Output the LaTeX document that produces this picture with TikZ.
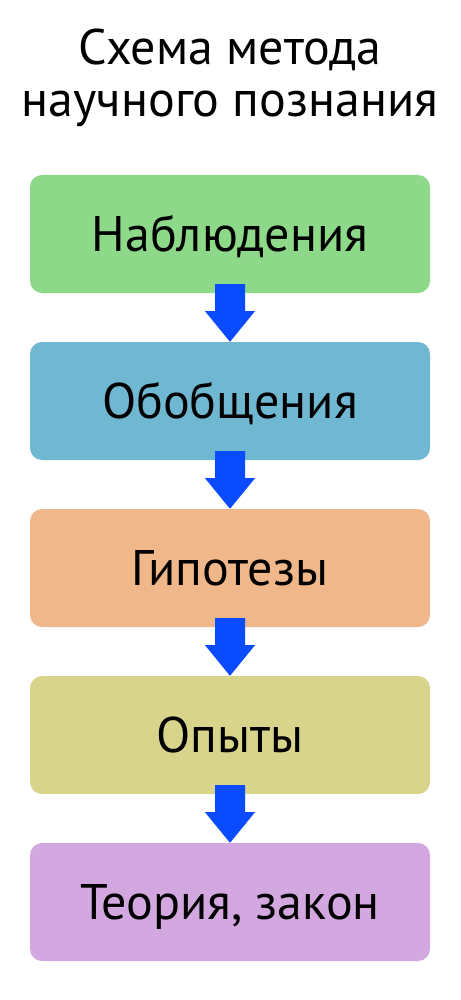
\documentclass[tikz,border=0pt]{standalone}
\usepackage{fontspec}
\setmainfont{PT Sans}
\begin{document}
\begin{tikzpicture}[x=1pt,y=-1pt,
  stage/.style={rounded corners=12pt, minimum width=400pt, minimum height=118pt, inner sep=0pt, text height=35pt, text depth=0pt, font=\fontsize{50}{58}\selectfont, text=black},
  heading/.style={anchor=base, inner sep=0pt, font=\fontsize{50}{58}\selectfont}]
\definecolor{c1}{HTML}{8ED88A}
\definecolor{c2}{HTML}{70B7D2}
\definecolor{c3}{HTML}{F0B78A}
\definecolor{c4}{HTML}{D9D48C}
\definecolor{c5}{HTML}{D3A8E0}
\definecolor{arrowblue}{HTML}{0A4BFF}
\useasboundingbox (0,0) rectangle (460,1000);
\node[heading] (title1) at (230,65) {Схема метода};
\node[heading] (title2) at (230,117) {научного познания};
\node[stage, fill=c1] (s1) at (230,234) {Наблюдения};
\node[stage, fill=c2] (s2) at (230,401) {Обобщения};
\node[stage, fill=c3] (s3) at (230,568) {Гипотезы};
\node[stage, fill=c4] (s4) at (230,735) {Опыты};
\node[stage, fill=c5] (s5) at (230,902) {Теория, закон};
\foreach \a/\b in {s1/s2,s2/s3,s3/s4,s4/s5}{
  \fill[arrowblue] ([xshift=-15pt,yshift=9pt]\a.south) -- ([xshift=15pt,yshift=9pt]\a.south)
    -- ([xshift=15pt,yshift=-18pt]\a.south) -- ([xshift=25pt,yshift=-18pt]\a.south)
    -- (\b.north) -- ([xshift=-25pt,yshift=-18pt]\a.south) -- ([xshift=-15pt,yshift=-18pt]\a.south) -- cycle;
}
\end{tikzpicture}
\end{document}
